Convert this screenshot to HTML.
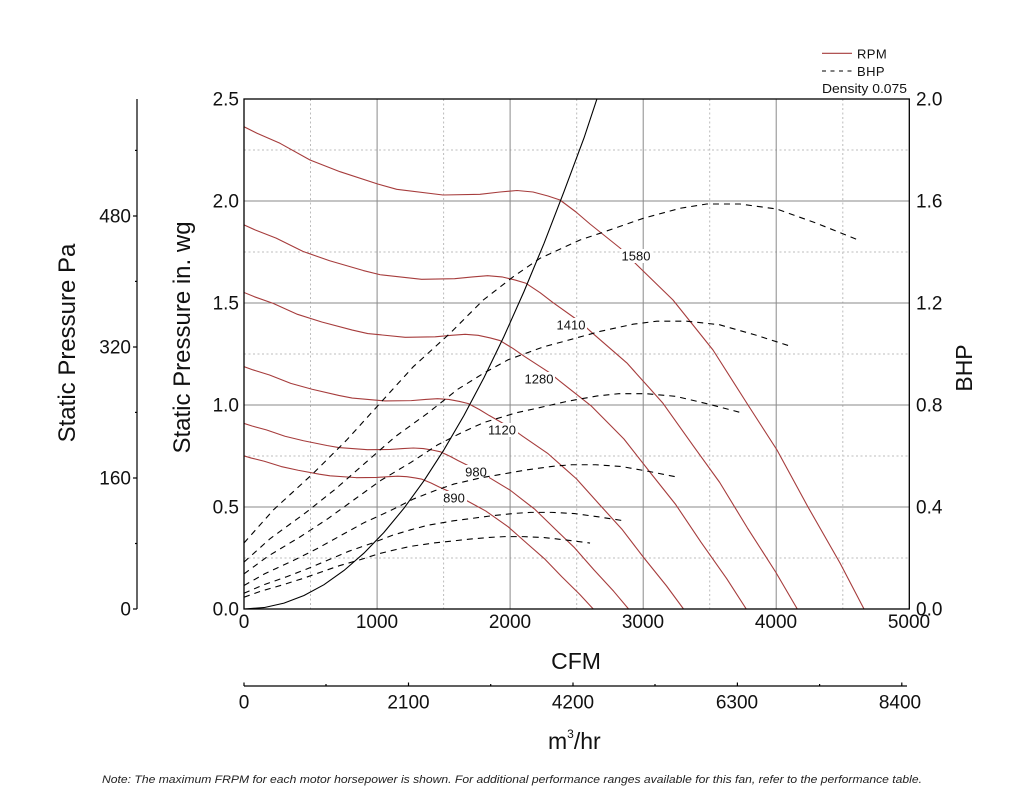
<!DOCTYPE html>
<html>
<head>
<meta charset="utf-8">
<style>
html,body{margin:0;padding:0;background:#fff;}
svg{display:block;font-family:"Liberation Sans",Arial,sans-serif;}
.rpm{fill:none;stroke:#a63c3c;stroke-width:1.1;stroke-linejoin:round;}
.bhp{fill:none;stroke:#000;stroke-width:1.1;stroke-dasharray:6,5;}
.mj{stroke:#8a8a8a;stroke-width:1;}
.mn{stroke:#bcbcbc;stroke-width:1;stroke-dasharray:2,2.5;}
.tk{font-size:19px;fill:#111;}
.cl{font-size:13px;fill:#111;text-anchor:middle;}
</style>
</head>
<body>
<svg width="1024" height="788" viewBox="0 0 1024 788" xmlns="http://www.w3.org/2000/svg">
<defs>
<clipPath id="pc"><rect x="244" y="99" width="665.3" height="510"/></clipPath>
</defs>
<rect width="1024" height="788" fill="#fff"/>

<!-- minor grid -->
<g class="mn">
<line x1="310.5" y1="99" x2="310.5" y2="609"/>
<line x1="443.6" y1="99" x2="443.6" y2="609"/>
<line x1="576.7" y1="99" x2="576.7" y2="609"/>
<line x1="709.7" y1="99" x2="709.7" y2="609"/>
<line x1="842.8" y1="99" x2="842.8" y2="609"/>
<line x1="244" y1="558" x2="909" y2="558"/>
<line x1="244" y1="456" x2="909" y2="456"/>
<line x1="244" y1="354" x2="909" y2="354"/>
<line x1="244" y1="252" x2="909" y2="252"/>
<line x1="244" y1="150" x2="909" y2="150"/>
</g>
<!-- major grid -->
<g class="mj">
<line x1="377.1" y1="99" x2="377.1" y2="609"/>
<line x1="510.1" y1="99" x2="510.1" y2="609"/>
<line x1="643.2" y1="99" x2="643.2" y2="609"/>
<line x1="776.2" y1="99" x2="776.2" y2="609"/>
<line x1="244" y1="507" x2="909" y2="507"/>
<line x1="244" y1="405" x2="909" y2="405"/>
<line x1="244" y1="303" x2="909" y2="303"/>
<line x1="244" y1="201" x2="909" y2="201"/>
</g>

<g clip-path="url(#pc)">
<!-- RPM curves -->
<g class="rpm">
<path vector-effect="non-scaling-stroke" transform="translate(244,609) scale(1,-1)" d="M0,482.3 L13,475.7 36,465.7 66,449 96,437.3 133.7,425 152.7,419.7 199,414 236,414.7 256,417 273,418.5 289,417 304,413 316,409 332,397 346,385 376,361 393,344 429,309 453,279 469,259 504,204 533,159 564,102 596,46 620,0"/>
<path vector-effect="non-scaling-stroke" transform="translate(244,609) scale(0.8924,-0.7964)" d="M0,482.3 L13,475.7 36,465.7 66,449 96,437.3 133.7,425 152.7,419.7 199,414 236,414.7 256,417 273,418.5 289,417 304,413 316,409 332,397 346,385 376,361 393,344 429,309 453,279 469,259 504,204 533,159 564,102 596,46 620,0"/>
<path vector-effect="non-scaling-stroke" transform="translate(244,609) scale(0.8101,-0.6563)" d="M0,482.3 L13,475.7 36,465.7 66,449 96,437.3 133.7,425 152.7,419.7 199,414 236,414.7 256,417 273,418.5 289,417 304,413 316,409 332,397 346,385 376,361 393,344 429,309 453,279 469,259 504,204 533,159 564,102 596,46 620,0"/>
<path vector-effect="non-scaling-stroke" transform="translate(244,609) scale(0.7089,-0.5025)" d="M0,482.3 L13,475.7 36,465.7 66,449 96,437.3 133.7,425 152.7,419.7 199,414 236,414.7 256,417 273,418.5 289,417 304,413 316,409 332,397 346,385 376,361 393,344 429,309 453,279 469,259 504,204 533,159 564,102 596,46 620,0"/>
<path vector-effect="non-scaling-stroke" transform="translate(244,609) scale(0.6203,-0.3847)" d="M0,482.3 L13,475.7 36,465.7 66,449 96,437.3 133.7,425 152.7,419.7 199,414 236,414.7 256,417 273,418.5 289,417 304,413 316,409 332,397 346,385 376,361 393,344 429,309 453,279 469,259 504,204 533,159 564,102 596,46 620,0"/>
<path vector-effect="non-scaling-stroke" transform="translate(244,609) scale(0.5633,-0.3173)" d="M0,482.3 L13,475.7 36,465.7 66,449 96,437.3 133.7,425 152.7,419.7 199,414 236,414.7 256,417 273,418.5 289,417 304,413 316,409 332,397 346,385 376,361 393,344 429,309 453,279 469,259 504,204 533,159 564,102 596,46 620,0"/>
</g>

<!-- label backgrounds -->
<g fill="#fff">
<rect x="620" y="249" width="32" height="14"/>
<rect x="555" y="318" width="32" height="14"/>
<rect x="523" y="372" width="32" height="14"/>
<rect x="486" y="423" width="32" height="14"/>
<rect x="463" y="465" width="26" height="14"/>
<rect x="441" y="491" width="26" height="14"/>
</g>

<!-- BHP curves -->
<g class="bhp">
<path vector-effect="non-scaling-stroke" transform="translate(244,609) scale(1,-1)" d="M0,66 L29.3,99 69.3,135.7 102.7,169 136,205.7 169.3,242.3 206,275.7 239.3,309 269.3,332.3 296,350.7 336,369 356,375.7 399.3,390.7 436,400.7 462.7,405 496,405 532.7,400 572.7,385.7 614.3,369"/>
<path vector-effect="non-scaling-stroke" transform="translate(244,609) scale(0.8924,-0.7107)" d="M0,66 L29.3,99 69.3,135.7 102.7,169 136,205.7 169.3,242.3 206,275.7 239.3,309 269.3,332.3 296,350.7 336,369 356,375.7 399.3,390.7 436,400.7 462.7,405 496,405 532.7,400 572.7,385.7 614.3,369"/>
<path vector-effect="non-scaling-stroke" transform="translate(244,609) scale(0.8101,-0.5317)" d="M0,66 L29.3,99 69.3,135.7 102.7,169 136,205.7 169.3,242.3 206,275.7 239.3,309 269.3,332.3 296,350.7 336,369 356,375.7 399.3,390.7 436,400.7 462.7,405 496,405 532.7,400 572.7,385.7 614.3,369"/>
<path vector-effect="non-scaling-stroke" transform="translate(244,609) scale(0.7089,-0.3562)" d="M0,66 L29.3,99 69.3,135.7 102.7,169 136,205.7 169.3,242.3 206,275.7 239.3,309 269.3,332.3 296,350.7 336,369 356,375.7 399.3,390.7 436,400.7 462.7,405 496,405 532.7,400 572.7,385.7 614.3,369"/>
<path vector-effect="non-scaling-stroke" transform="translate(244,609) scale(0.6203,-0.2386)" d="M0,66 L29.3,99 69.3,135.7 102.7,169 136,205.7 169.3,242.3 206,275.7 239.3,309 269.3,332.3 296,350.7 336,369 356,375.7 399.3,390.7 436,400.7 462.7,405 496,405 532.7,400 572.7,385.7 614.3,369"/>
<path vector-effect="non-scaling-stroke" transform="translate(244,609) scale(0.5633,-0.1787)" d="M0,66 L29.3,99 69.3,135.7 102.7,169 136,205.7 169.3,242.3 206,275.7 239.3,309 269.3,332.3 296,350.7 336,369 356,375.7 399.3,390.7 436,400.7 462.7,405 496,405 532.7,400 572.7,385.7 614.3,369"/>
</g>

<!-- system curve -->
<polyline fill="none" stroke="#000" stroke-width="1.1" points="244,609 264,607.6 284,603.1 304,595.5 324,584.7 344,570.5 364,553.1 384,532.4 404,508.2 424,480.7 444,449.7 464,415.4 484,377.6 504,336.4 524,291.5 544,243.4 564,191.6 584,138 599,92.7"/>
</g>

<!-- curve labels -->
<text class="cl" x="636" y="260.5">1580</text>
<text class="cl" x="571" y="329.5">1410</text>
<text class="cl" x="539" y="383.5">1280</text>
<text class="cl" x="502" y="434.5">1120</text>
<text class="cl" x="476" y="476.5">980</text>
<text class="cl" x="454" y="502.5">890</text>

<!-- frame -->
<rect x="244" y="99" width="665.3" height="510" fill="none" stroke="#000" stroke-width="1.3"/>

<!-- left in.wg ticks labels -->
<g class="tk" text-anchor="end">
<text x="239" y="105.7">2.5</text>
<text x="239" y="207.7">2.0</text>
<text x="239" y="309.7">1.5</text>
<text x="239" y="411.7">1.0</text>
<text x="239" y="513.7">0.5</text>
<text x="239" y="615.7">0.0</text>
</g>
<!-- right BHP labels -->
<g class="tk" text-anchor="start">
<text x="916" y="105.7">2.0</text>
<text x="916" y="207.7">1.6</text>
<text x="916" y="309.7">1.2</text>
<text x="916" y="411.7">0.8</text>
<text x="916" y="513.7">0.4</text>
<text x="916" y="615.7">0.0</text>
</g>
<!-- CFM labels -->
<g class="tk" text-anchor="middle">
<text x="244" y="628">0</text>
<text x="377" y="628">1000</text>
<text x="510" y="628">2000</text>
<text x="643" y="628">3000</text>
<text x="776" y="628">4000</text>
<text x="909" y="628">5000</text>
</g>

<!-- Pa axis -->
<g stroke="#000" stroke-width="1.2">
<line x1="137" y1="99" x2="137" y2="609"/>
<line x1="133" y1="216" x2="137" y2="216"/>
<line x1="133" y1="347" x2="137" y2="347"/>
<line x1="133" y1="478" x2="137" y2="478"/>
<line x1="133" y1="609" x2="137" y2="609"/>
<line x1="135" y1="150.4" x2="137" y2="150.4"/>
<line x1="135" y1="281.4" x2="137" y2="281.4"/>
<line x1="135" y1="412.4" x2="137" y2="412.4"/>
<line x1="135" y1="543.5" x2="137" y2="543.5"/>
</g>
<g class="tk" text-anchor="end">
<text x="131" y="222.7">480</text>
<text x="131" y="353.7">320</text>
<text x="131" y="484.7">160</text>
<text x="131" y="615.7">0</text>
</g>

<!-- m3/hr axis -->
<g stroke="#000" stroke-width="1.2">
<line x1="244" y1="686" x2="907" y2="686"/>
<line x1="244" y1="682.5" x2="244" y2="686"/>
<line x1="408.5" y1="682.5" x2="408.5" y2="686"/>
<line x1="573" y1="682.5" x2="573" y2="686"/>
<line x1="737.4" y1="682.5" x2="737.4" y2="686"/>
<line x1="901.8" y1="682.5" x2="901.8" y2="686"/>
<line x1="326" y1="684" x2="326" y2="686"/>
<line x1="490.7" y1="684" x2="490.7" y2="686"/>
<line x1="655" y1="684" x2="655" y2="686"/>
<line x1="819.6" y1="684" x2="819.6" y2="686"/>
</g>
<g class="tk" text-anchor="middle">
<text x="244" y="708.5">0</text>
<text x="408.5" y="708.5">2100</text>
<text x="573" y="708.5">4200</text>
<text x="737" y="708.5">6300</text>
<text x="900" y="708.5">8400</text>
</g>

<!-- axis titles -->
<text font-size="24" text-anchor="middle" fill="#111" transform="translate(75,343) rotate(-90)">Static Pressure Pa</text>
<text font-size="24" text-anchor="middle" fill="#111" transform="translate(190,337.5) rotate(-90)">Static Pressure in. wg</text>
<text font-size="23" text-anchor="middle" fill="#111" transform="translate(972,368) rotate(-90)">BHP</text>
<text font-size="23" text-anchor="middle" fill="#111" x="576" y="669">CFM</text>
<text font-size="23" fill="#111" x="548" y="749">m<tspan dy="-11" font-size="12">3</tspan><tspan dy="11">/hr</tspan></text>

<!-- legend -->
<line x1="822" y1="53.3" x2="852" y2="53.3" stroke="#a63c3c" stroke-width="1.2"/>
<text x="857" y="58.3" font-size="13" fill="#111" letter-spacing="0.4">RPM</text>
<line x1="822" y1="71" x2="852" y2="71" stroke="#000" stroke-width="1.1" stroke-dasharray="4,4.5"/>
<text x="857" y="76" font-size="13" fill="#111" letter-spacing="0.4">BHP</text>
<text x="822" y="93" font-size="13" fill="#111" textLength="85" lengthAdjust="spacingAndGlyphs">Density 0.075</text>

<!-- note -->
<text x="102" y="783" font-size="11" font-style="italic" fill="#222" textLength="820" lengthAdjust="spacingAndGlyphs">Note: The maximum FRPM for each motor horsepower is shown. For additional performance ranges available for this fan, refer to the performance table.</text>
</svg>
</body>
</html>
